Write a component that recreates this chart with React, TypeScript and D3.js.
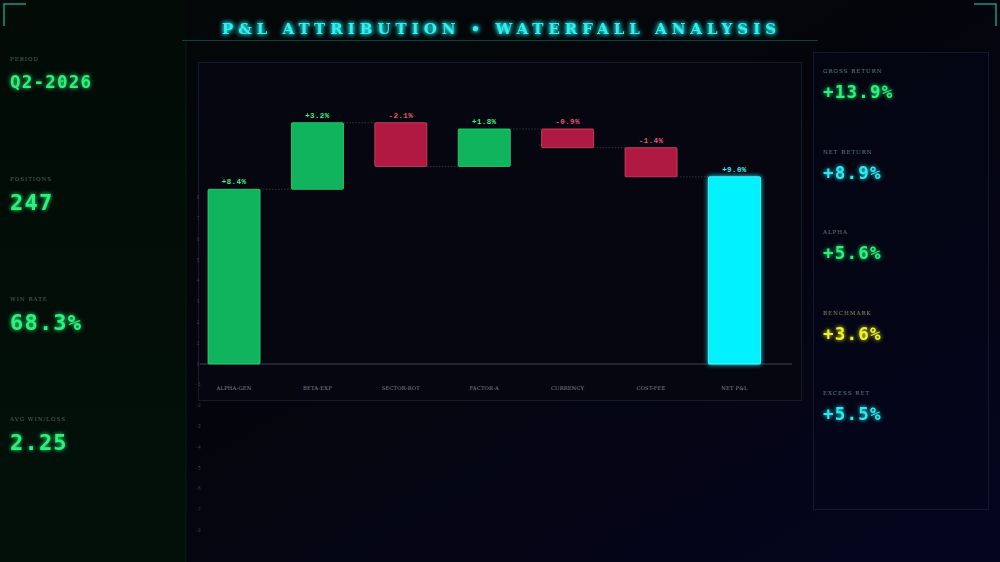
import React from "react";
import * as d3 from "d3";

const categories = ["ALPHA-GEN", "BETA-EXP", "SECTOR-ROT", "FACTOR-A", "CURRENCY", "COST-FEE", "NET P&L"];
const deltas = [8.4, 3.2, -2.1, 1.8, -0.9, -1.4];
const netValue = 9.0;
const yTickValues = [-8, -7, -6, -5, -4, -3, -2, -1, 0, 1, 2, 3, 4, 5, 6, 7, 8];

const leftLabels = ["PERIOD", "POSITIONS", "WIN RATE", "AVG WIN/LOSS"];
const leftValues = ["Q2-2026", "247", "68.3%", "2.25"];

const rightLabels = ["GROSS RETURN", "NET RETURN", "ALPHA", "BENCHMARK", "EXCESS RET"];
const rightValues = ["+13.9%", "+8.9%", "+5.6%", "+3.6%", "+5.5%"];
const rightKinds = ["green", "cyan", "green", "yellow", "cyan"];

const palette: Record<string, { value: string; label: string }> = {
  green: { value: "#2af27a", label: "#5f8a72" },
  cyan: { value: "#2de8f0", label: "#5f8290" },
  yellow: { value: "#eef22a", label: "#8e9250" },
};

const W = 1000;
const H = 562;

export default function App() {
  React.useEffect(() => {
    document.body.style.margin = "0";
    document.body.style.background = "#05060c";
  }, []);

  const x = d3
    .scaleBand<string>()
    .domain(categories)
    .range([199.7, 768.8])
    .paddingInner(0.3765)
    .paddingOuter(0.1);
  const y = d3.scaleLinear().domain([-8.5, 13]).range([540.8, 93.6]);

  type Bar = { cat: string; start: number; end: number; value: number; kind: string };
  const bars: Bar[] = [];
  let cum = 0;
  deltas.forEach((d, i) => {
    bars.push({ cat: categories[i], start: cum, end: cum + d, value: d, kind: d >= 0 ? "pos" : "neg" });
    cum += d;
  });
  bars.push({ cat: categories[categories.length - 1], start: 0, end: netValue, value: netValue, kind: "net" });

  const fillFor = (k: string) => (k === "pos" ? "#0fb45c" : k === "neg" ? "#b01a42" : "#00f2ff");
  const strokeFor = (k: string) => (k === "pos" ? "#2fd878" : k === "neg" ? "#d8456a" : "#5ff8ff");
  const labelFor = (k: string) => (k === "pos" ? "#3cf08a" : k === "neg" ? "#e8557a" : "#3ff0f5");
  const fmt = (v: number) => (v >= 0 ? "+" : "") + v.toFixed(1) + "%";

  const mono = "'Liberation Mono', 'DejaVu Sans Mono', monospace";
  const serif = "'DejaVu Serif', 'Liberation Serif', serif";
  const sansMono = "'DejaVu Sans Mono', 'Liberation Mono', monospace";

  return (
    <svg width={W} height={H} style={{ position: "absolute", left: 0, top: 0, display: "block" }}>
      <defs>
        <linearGradient id="bg" x1="0" y1="0" x2="1" y2="1">
          <stop offset="0" stopColor="#030806" />
          <stop offset="0.5" stopColor="#04050c" />
          <stop offset="1" stopColor="#050520" />
        </linearGradient>
        <linearGradient id="leftbg" x1="0" y1="0" x2="0" y2="1">
          <stop offset="0" stopColor="#020b06" />
          <stop offset="1" stopColor="#03100a" />
        </linearGradient>
        <filter id="glow" x="-30%" y="-60%" width="160%" height="220%">
          <feGaussianBlur stdDeviation="2" result="b" />
          <feMerge>
            <feMergeNode in="b" />
            <feMergeNode in="SourceGraphic" />
          </feMerge>
        </filter>
        <filter id="glowT" x="-10%" y="-80%" width="120%" height="260%">
          <feGaussianBlur stdDeviation="2.5" result="b" />
          <feMerge>
            <feMergeNode in="b" />
            <feMergeNode in="b" />
            <feMergeNode in="SourceGraphic" />
          </feMerge>
        </filter>
        <filter id="glowBar" x="-30%" y="-30%" width="160%" height="160%">
          <feGaussianBlur stdDeviation="2.5" result="b" />
          <feMerge>
            <feMergeNode in="b" />
            <feMergeNode in="SourceGraphic" />
          </feMerge>
        </filter>
      </defs>

      <rect x={0} y={0} width={W} height={H} fill="url(#bg)" />
      <rect x={0} y={0} width={186} height={H} fill="url(#leftbg)" />
      <line x1={186} y1={40} x2={186} y2={H} stroke="#0b1a12" strokeWidth={1} />

      {/* corner brackets */}
      <path d="M4,26 L4,4 L26,4" fill="none" stroke="#1fb8a8" strokeWidth={1.5} opacity={0.8} />
      <path d="M974,4 L996,4 L996,26" fill="none" stroke="#1fb8a8" strokeWidth={1.5} opacity={0.8} />

      {/* title */}
      <text
        x={222}
        y={34}
        fill="#2ff0f0"
        fontFamily={serif}
        fontWeight="bold"
        fontSize={15}
        textLength={554}
        lengthAdjust="spacing"
        filter="url(#glowT)"
      >
        P&amp;L ATTRIBUTION • WATERFALL ANALYSIS
      </text>
      <line x1={182} y1={40.5} x2={818} y2={40.5} stroke="#10403c" strokeWidth={1} />

      {/* left KPIs */}
      {leftLabels.map((l, i) => {
        const base = 61 + i * 120;
        return (
          <g key={l}>
            <text x={10} y={base} fill="#4c6a5a" fontFamily={serif} fontSize={5.5} letterSpacing={1}>
              {l}
            </text>
            <text
              x={10}
              y={base + (i === 0 ? 27 : 29)}
              fill="#2af27a"
              fontFamily={sansMono}
              fontWeight="bold"
              fontSize={i === 0 ? 17.5 : 22}
              letterSpacing={1.2}
              filter="url(#glow)"
            >
              {leftValues[i]}
            </text>
          </g>
        );
      })}

      {/* right panel */}
      <rect x={813.5} y={52.5} width={175} height={457} fill="#03041a" fillOpacity={0.4} stroke="#12182e" strokeWidth={1} />
      {rightLabels.map((l, i) => {
        const base = 73 + i * 80.5;
        const p = palette[rightKinds[i]];
        return (
          <g key={l}>
            <text x={823} y={base} fill={p.label} fontFamily={serif} fontSize={5.5} letterSpacing={1}>
              {l}
            </text>
            <text
              x={823}
              y={base + 25}
              fill={p.value}
              fontFamily={sansMono}
              fontWeight="bold"
              fontSize={17.5}
              letterSpacing={1.2}
              filter="url(#glow)"
            >
              {rightValues[i]}
            </text>
          </g>
        );
      })}

      {/* chart panel */}
      <rect x={198.5} y={62.5} width={603} height={338} fill="#05060f" stroke="#161c28" strokeWidth={1} />

      {/* y tick labels */}
      {yTickValues.map((t) => (
        <text
          key={t}
          x={198}
          y={y(t) + 1.5}
          textAnchor="middle"
          fill="#36424e"
          fontFamily={mono}
          fontSize={4.5}
        >
          {t}
        </text>
      ))}

      {/* zero line */}
      <line x1={200} y1={y(0)} x2={792} y2={y(0)} stroke="#3c4250" strokeWidth={1} />

      {/* connectors */}
      {bars.slice(0, bars.length - 1).map((b, i) => {
        const next = categories[i + 1];
        const x1 = (x(b.cat) as number) + x.bandwidth();
        const x2 = x(next) as number;
        return (
          <line
            key={"c" + i}
            x1={x1}
            x2={x2}
            y1={y(b.end)}
            y2={y(b.end)}
            stroke="#3a4050"
            strokeWidth={0.8}
            strokeDasharray="1.5,1.5"
          />
        );
      })}

      {/* bars */}
      {bars.map((b, i) => {
        const top = y(Math.max(b.start, b.end));
        const bottom = y(Math.min(b.start, b.end));
        const bx = x(b.cat) as number;
        return (
          <g key={"b" + i}>
            <rect
              x={bx}
              y={top}
              width={x.bandwidth()}
              height={bottom - top}
              fill={fillFor(b.kind)}
              stroke={strokeFor(b.kind)}
              strokeWidth={0.8}
              rx={1}
              filter={b.kind === "net" ? "url(#glowBar)" : undefined}
            />
            <text
              x={bx + x.bandwidth() / 2}
              y={top - 5}
              textAnchor="middle"
              fill={labelFor(b.kind)}
              fontFamily={mono}
              fontWeight="bold"
              fontSize={7.5}
              letterSpacing={0.4}
            >
              {fmt(b.value)}
            </text>
          </g>
        );
      })}

      {/* x labels */}
      {categories.map((c) => (
        <text
          key={c}
          x={(x(c) as number) + x.bandwidth() / 2}
          y={390}
          textAnchor="middle"
          fill="#858c9a"
          fontFamily={serif}
          fontSize={5.2}
          letterSpacing={0.2}
        >
          {c}
        </text>
      ))}
    </svg>
  );
}
